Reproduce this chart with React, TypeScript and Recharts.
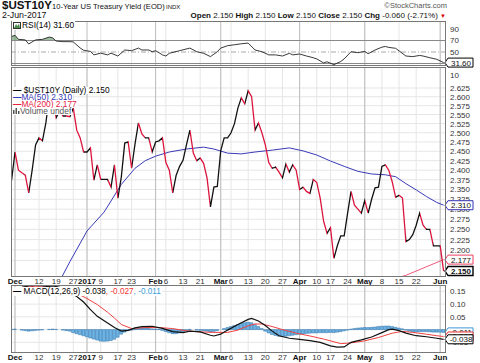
import React from "react";
import {
  Area,
  Bar,
  CartesianGrid,
  ComposedChart,
  Line,
  XAxis,
  YAxis,
} from "recharts";

const FONT = "'Liberation Sans', Arial, sans-serif";

// trading days, 0 = 1 Dec 2016 (first entry is 30 Nov = -1)
const firstDay = -1;

const price = [
  2.374, 2.448, 2.4, 2.393, 2.387, 2.341, 2.4, 2.467, 2.486, 2.478, 2.527,
  2.6, 2.59, 2.541, 2.56, 2.546, 2.546, 2.544, 2.568, 2.507, 2.486,
  2.448, 2.448, 2.459, 2.374, 2.414, 2.376, 2.376, 2.376, 2.356, 2.414,
  2.328, 2.382, 2.472, 2.475, 2.405, 2.47, 2.527, 2.497, 2.486, 2.486,
  2.448, 2.475, 2.478, 2.486, 2.42, 2.4, 2.341, 2.387, 2.41, 2.426,
  2.467, 2.507, 2.445, 2.425, 2.432, 2.418, 2.38, 2.306, 2.356, 2.358,
  2.452, 2.486, 2.486, 2.5, 2.525, 2.568, 2.597, 2.58, 2.617, 2.6,
  2.507, 2.527, 2.5, 2.467, 2.42, 2.405, 2.408, 2.395, 2.38, 2.416,
  2.395, 2.414, 2.4, 2.35, 2.356, 2.345, 2.34, 2.376, 2.368, 2.328,
  2.27, 2.24, 2.254, 2.18, 2.21, 2.234, 2.234, 2.29, 2.345, 2.31,
  2.3, 2.29, 2.322, 2.29, 2.325, 2.354, 2.356, 2.41, 2.414, 2.4,
  2.37, 2.33, 2.335, 2.328, 2.22, 2.225, 2.237, 2.26, 2.29, 2.26,
  2.25, 2.25, 2.21, 2.21, 2.21, 2.15,
];

const ma50Days = [12, 16, 21, 26, 31, 35, 38, 41, 45, 50, 55, 58, 62, 66, 70, 75, 80, 84, 88, 92, 96, 100, 104, 108, 111, 114, 117, 120, 123, 125];
const ma50Vals = [2.111, 2.172, 2.246, 2.293, 2.363, 2.405, 2.425, 2.437, 2.448, 2.456, 2.461, 2.456, 2.445, 2.443, 2.448, 2.453, 2.459, 2.451, 2.44, 2.424, 2.41, 2.397, 2.39, 2.388, 2.383, 2.365, 2.349, 2.332, 2.317, 2.31];

const ma200Days = [100, 114, 125];
const ma200Vals = [2.108, 2.14, 2.177];

const rsiDays = [-1, 0, 1, 3, 4, 6, 8, 10, 11, 12, 14, 16, 17, 19, 20, 22, 23, 25, 27, 28, 30, 32, 34, 36, 37, 39, 40, 41, 43, 44, 45, 48, 51, 53, 55, 57, 59, 60, 62, 64, 66, 68, 70, 72, 74, 76, 78, 80, 81, 83, 85, 87, 88, 90, 91, 93, 95, 96, 98, 100, 102, 103, 105, 107, 108, 109, 111, 112, 114, 116, 118, 119, 121, 123, 125];
const rsiVals = [77, 79, 72, 71, 64, 71, 72, 76, 74.5, 69, 68, 68, 67.5, 57, 53, 51, 45, 48, 45, 48, 43, 53.5, 52.3, 56.8, 53.5, 53.5, 50.5, 52.3, 45, 43, 47.7, 52.3, 56.8, 50.5, 47.7, 42, 50.5, 56.8, 61, 62.6, 64.3, 65.5, 53.5, 50.5, 45, 45, 43, 47.7, 45, 46.5, 43, 40, 38, 31, 33, 28, 33.5, 38, 50.5, 48.8, 51, 47, 53.5, 58.4, 59.6, 58, 56.4, 52, 43, 42, 44, 43, 40, 37.3, 31.6];

const macdDays = [2, 4, 6, 8, 11, 13, 15, 18, 20, 22, 24, 27, 29, 31, 33, 35, 37, 40, 43, 46, 49, 51, 54, 57, 58, 60, 62, 65, 68, 69, 71, 73, 75, 77, 80, 83, 86, 89, 92, 94, 96, 98, 101, 104, 107, 109, 110, 112, 114, 117, 120, 123, 125];
const macdVals = [0.172, 0.167, 0.165, 0.167, 0.171, 0.166, 0.155, 0.13, 0.108, 0.078, 0.052, 0.026, 0.008, -0.006, -0.003, 0.007, 0.012, 0.013, 0.005, -0.008, -0.012, -0.006, -0.009, -0.022, -0.025, -0.018, -0.002, 0.02, 0.04, 0.044, 0.034, 0.016, -0.006, -0.024, -0.034, -0.038, -0.043, -0.05, -0.064, -0.069, -0.068, -0.05, -0.04, -0.029, -0.012, 0.0, 0.002, -0.004, -0.014, -0.024, -0.028, -0.034, -0.038];

const signalDays = [2, 6, 10, 13, 15, 18, 21, 24, 27, 29, 31, 34, 38, 42, 46, 50, 54, 58, 62, 65, 68, 70, 72, 75, 78, 82, 86, 90, 95, 98, 102, 106, 110, 113, 116, 120, 123, 125];
const signalVals = [0.172, 0.168, 0.167, 0.162, 0.155, 0.142, 0.122, 0.098, 0.068, 0.045, 0.02, 0.004, 0.008, 0.008, 0.004, -0.005, -0.009, -0.011, -0.011, -0.002, 0.015, 0.022, 0.022, 0.012, 0.0, -0.014, -0.025, -0.037, -0.055, -0.052, -0.044, -0.031, -0.014, -0.007, -0.011, -0.018, -0.024, -0.027];

const hist = [
  0.001, 0.002, 0.0, -0.002, -0.004, -0.006, -0.005, -0.003, -0.002, -0.001, 0.0,
  0.001, 0.002, 0.001, 0.0, -0.002, -0.004, -0.006, -0.012, -0.016, -0.02,
  -0.024, -0.028, -0.033, -0.037, -0.041, -0.045, -0.046, -0.045, -0.043, -0.038,
  -0.03, -0.018, -0.01, -0.004, -0.002, 0.002, 0.005, 0.006, 0.006, 0.005,
  0.003, 0.002, 0.002, -0.003, -0.008, -0.012, -0.016, -0.016, -0.013, -0.009,
  -0.004, 0.001, 0.0, -0.002, -0.003, -0.004, -0.006, -0.009, -0.007, -0.004,
  0.0, 0.004, 0.008, 0.012, 0.016, 0.02, 0.024, 0.027, 0.029, 0.027,
  0.02, 0.012, 0.004, -0.006, -0.013, -0.019, -0.023, -0.026, -0.027, -0.026,
  -0.024, -0.022, -0.02, -0.018, -0.017, -0.015, -0.014, -0.013, -0.013, -0.012,
  -0.012, -0.012, -0.011, -0.012, -0.01, -0.008, -0.005, -0.002, 0.002, 0.004,
  0.006, 0.007, 0.008, 0.008, 0.009, 0.01, 0.012, 0.013, 0.014, 0.014,
  0.012, 0.009, 0.006, 0.003, -0.002, -0.006, -0.008, -0.009, -0.008, -0.008,
  -0.008, -0.009, -0.01, -0.01, -0.01, -0.011,
];

const tickDays = [0, 7, 12, 17, 21, 25, 30, 34, 41, 44, 49, 54, 60, 63, 68, 73, 78, 83, 88, 92, 97, 102, 107, 112, 117, 124];
const tickLabels = ["Dec", "12", "19", "27", "2017", "9", "17", "23", "Feb", "6", "13", "21", "Mar", "6", "13", "20", "27", "Apr", "10", "17", "24", "May", "8", "15", "22", "Jun"];
const monthDays = [0, 21, 41, 60, 83, 102, 124];

const priceTicks = [2.625, 2.6, 2.575, 2.55, 2.525, 2.5, 2.475, 2.45, 2.425, 2.4, 2.375, 2.35, 2.325, 2.3, 2.275, 2.25, 2.225, 2.2, 2.175];
const priceTags = [2.31, 2.177, 2.15];
const priceTagColors = ["#3535b5", "#ee3f62", "#000000"];

const rsiTicks = [90, 70, 50];
const rsiTags = [31.6];

const macdTicks = [0.15, 0.1, 0.05, 0, -0.05];
const macdTags = [-0.011, -0.027, -0.038];
const macdTagColors = ["#3d9ad6", "#ee3333", "#000000"];

const xDomain = [-1.17, 125.4];

const UP = "#111111";
const DOWN = "#dc143c";

const pick = (days: number[], vals: number[], d: number) => {
  const k = days.indexOf(d);
  return k >= 0 ? vals[k] : null;
};

const rows = price.map((p, i) => {
  const d = i + firstDay;
  return {
    d,
    price: p,
    ma50: pick(ma50Days, ma50Vals, d),
    ma200: pick(ma200Days, ma200Vals, d),
    rsi: pick(rsiDays, rsiVals, d),
    macd: pick(macdDays, macdVals, d),
    signal: pick(signalDays, signalVals, d),
    hist: hist[i],
  };
});

function DateTick(props: any) {
  const { x, y, payload } = props;
  const k = tickDays.indexOf(payload.value);
  const bold = monthDays.includes(payload.value);
  return (
    <text x={x} y={y} dy={8} textAnchor="middle" fontSize={8} fontFamily={FONT}
      fontWeight={bold ? "bold" : "normal"} fill={bold ? "#111" : "#333"}>
      {tickLabels[k]}
    </text>
  );
}

function ValueTag({ x, y, text, color, bold }: any) {
  return (
    <g>
      <path
        d={`M${x} ${y} L${x + 3} ${y - 4.5} L${x + 28} ${y - 4.5} L${x + 28} ${y + 4.5} L${x + 3} ${y + 4.5} Z`}
        fill="#fff" stroke={color} strokeWidth={bold ? 1.4 : 1}
      />
      <text x={x + 16} y={y} dy={3} textAnchor="middle" fontSize={8} fontFamily={FONT}
        fontWeight={bold ? "bold" : "normal"} fill="#111">
        {text}
      </text>
    </g>
  );
}

function makeTick(tags: number[], colors: string[], digits: number, tagDigits: number, boldLast: boolean) {
  return (props: any) => {
    const { x, y, payload } = props;
    const k = tags.indexOf(payload.value);
    if (k >= 0) {
      return (
        <ValueTag x={x} y={y} text={payload.value.toFixed(tagDigits)} color={colors[k]}
          bold={boldLast && k === tags.length - 1} />
      );
    }
    return (
      <text x={x + 5} y={y} dy={3} fontSize={8} fontFamily={FONT} fill="#333">
        {payload.value.toFixed(digits)}
      </text>
    );
  };
}

const PriceTick = makeTick(priceTags, priceTagColors, 3, 3, true);
const RsiTick = makeTick(rsiTags, ["#000000"], 0, 2, false);
const MacdTick = makeTick(macdTags, macdTagColors, 2, 3, false);

function Txt({ x, y, size, bold, color, right, children }: any) {
  const style: any = {
    position: "absolute",
    top: y,
    fontFamily: FONT,
    fontSize: size,
    fontWeight: bold ? "bold" : "normal",
    color: color || "#111",
    whiteSpace: "nowrap",
    lineHeight: 1,
  };
  if (right !== undefined) style.right = 480 - right;
  else style.left = x;
  return <div style={style}>{children}</div>;
}

function Box({ x, y, w, h }: any) {
  return (
    <div style={{ position: "absolute", left: x, top: y, width: w, height: h, border: "1px solid #777", boxSizing: "border-box", pointerEvents: "none" }} />
  );
}

export default function App() {
  const n = price.length - 1;
  const stops: React.ReactNode[] = [];
  for (let k = 1; k <= n; k++) {
    const c = price[k] >= price[k - 1] ? UP : DOWN;
    stops.push(<stop key={`a${k}`} offset={(k - 1) / n} stopColor={c} />);
    stops.push(<stop key={`b${k}`} offset={k / n} stopColor={c} />);
  }
  const rMax = Math.max(...rsiVals);
  const rMin = Math.min(...rsiVals);
  const hot = (rMax - 70) / (rMax - rMin);

  const legendRow = { background: "#fff", display: "inline-block", padding: "0 1px" };

  return (
    <div style={{ position: "absolute", left: 0, top: 0, width: 480, height: 363, background: "#fff", overflow: "hidden" }}>
      {/* header */}
      <Txt x={2} y={0} size={11.5} bold>$UST10Y</Txt>
      <Txt x={52} y={3} size={7.6}>10-Year US Treasury Yield (EOD)</Txt>
      <Txt x={166} y={4} size={6}>INDX</Txt>
      <Txt right={447} y={2} size={7.5} color="#555">©StockCharts.com</Txt>
      <Txt x={2} y={11} size={8.8}>2-Jun-2017</Txt>
      <Txt right={446} y={11.5} size={8}>
        <b>Open</b> 2.150 <b>High</b> 2.150 <b>Low</b> 2.150 <b>Close</b> 2.150 <b>Chg</b> -0.060 (-2.71%) <span style={{ color: "#d00", fontSize: 6 }}>▼</span>
      </Txt>

      {/* RSI panel */}
      <div style={{ position: "absolute", left: 0, top: 0 }}>
        <ComposedChart width={480} height={80} data={rows} margin={{ top: 21, right: 0, bottom: 15, left: 11 }}>
          <defs>
            <linearGradient id="rsiHot" x1="0" y1="0" x2="0" y2="1">
              <stop offset={0} stopColor="#5e905e" />
              <stop offset={hot} stopColor="#5e905e" />
              <stop offset={hot} stopColor="#5e905e" stopOpacity={0} />
              <stop offset={1} stopColor="#5e905e" stopOpacity={0} />
            </linearGradient>
          </defs>
          <CartesianGrid stroke="#e6e6e6" verticalValues={tickDays} horizontal={false} />
          <CartesianGrid stroke="#bdbdbd" verticalValues={monthDays} horizontal={false} />
          <CartesianGrid stroke="#888" horizontalValues={[70, 30]} vertical={false} />
          <CartesianGrid stroke="#aaa" strokeDasharray="5 2 1 2" horizontalValues={[50]} vertical={false} />
          <XAxis dataKey="d" type="number" domain={xDomain} allowDataOverflow hide />
          <YAxis orientation="right" domain={[27.4, 103.9]} allowDataOverflow width={35}
            ticks={[...rsiTicks, ...rsiTags]} interval={0} tick={RsiTick} tickLine={false} axisLine={false}
            tickSize={0} tickMargin={0} />
          <Area dataKey="rsi" baseValue={70} fill="url(#rsiHot)" stroke="none" connectNulls isAnimationActive={false} />
          <Line dataKey="rsi" stroke="#222" strokeWidth={0.9} dot={false} connectNulls isAnimationActive={false} />
        </ComposedChart>
      </div>
      <Box x={11} y={21} w={435} h={45} />
      <Txt x={450} y={72} size={8} color="#333">10</Txt>
      <div style={{ position: "absolute", left: 12, top: 21, fontFamily: FONT, fontSize: 8.4, lineHeight: "9px", whiteSpace: "nowrap" }}>
        <span style={legendRow}>
          <svg width="8" height="7" style={{ verticalAlign: "-1px", marginRight: 1 }}>
            <rect x="0.5" y="0.5" width="7" height="6" fill="#fff" stroke="#333" />
            <path d="M1 6 L3 2 L4.5 4 L6 1.5 L7 6 Z" fill="#4f8a4f" />
          </svg>
          RSI(14) 31.60
        </span>
      </div>

      {/* price panel */}
      <div style={{ position: "absolute", left: 0, top: 0 }}>
        <ComposedChart width={480} height={290} data={rows} margin={{ top: 67, right: 0, bottom: 0, left: 11 }}>
          <defs>
            <linearGradient id="priceStroke" x1="0" y1="0" x2="1" y2="0">
              {stops}
            </linearGradient>
          </defs>
          <CartesianGrid stroke="#e6e6e6" verticalValues={tickDays} horizontalValues={priceTicks} />
          <CartesianGrid stroke="#bdbdbd" verticalValues={monthDays} horizontal={false} />
          <XAxis dataKey="d" type="number" domain={xDomain} allowDataOverflow ticks={tickDays} interval={0}
            tick={DateTick} tickLine={false} axisLine={false} height={14} tickSize={0} tickMargin={0} />
          <YAxis orientation="right" scale="log" domain={[2.1384, 2.6858]} allowDataOverflow width={35}
            ticks={[...priceTicks, ...priceTags]} interval={0} tick={PriceTick} tickLine={false} axisLine={false}
            tickSize={0} tickMargin={0} />
          <Line dataKey="ma200" stroke="#f0587a" strokeWidth={1} dot={false} connectNulls isAnimationActive={false} />
          <Line dataKey="ma50" stroke="#3a3ab8" strokeWidth={1} dot={false} connectNulls isAnimationActive={false} />
          <Line dataKey="price" stroke="url(#priceStroke)" strokeWidth={1.3} dot={false} isAnimationActive={false} />
        </ComposedChart>
      </div>
      <Box x={11} y={67} w={435} h={210} />
      <div style={{ position: "absolute", left: 12, top: 86.5, fontFamily: FONT, fontSize: 8.4, lineHeight: "7px", whiteSpace: "nowrap" }}>
        <div><span style={legendRow}><span style={{ fontWeight: "bold" }}>—</span> $UST10Y (Daily) 2.150</span></div>
        <div><span style={{ ...legendRow, color: "#3535b5" }}><span style={{ fontWeight: "bold" }}>—</span>MA(50) 2.310</span></div>
        <div><span style={{ ...legendRow, color: "#e8213f" }}><span style={{ fontWeight: "bold" }}>—</span>MA(200) 2.177</span></div>
        <div><span style={{ ...legendRow, color: "#555" }}>
          <svg width="7" height="6" style={{ verticalAlign: "0px" }}>
            <rect x="0" y="2" width="1.5" height="4" fill="#555" />
            <rect x="2.5" y="0" width="1.5" height="6" fill="#555" />
            <rect x="5" y="3" width="1.5" height="3" fill="#555" />
          </svg>Volume undef</span></div>
      </div>

      {/* MACD panel */}
      <div style={{ position: "absolute", left: 0, top: 270 }}>
        <ComposedChart width={480} height={93} data={rows} margin={{ top: 15, right: 0, bottom: 0, left: 11 }}>
          <CartesianGrid stroke="#e6e6e6" verticalValues={tickDays} horizontalValues={macdTicks} />
          <CartesianGrid stroke="#bdbdbd" verticalValues={monthDays} horizontal={false} />
          <XAxis dataKey="d" type="number" domain={xDomain} allowDataOverflow ticks={tickDays} interval={0}
            tick={DateTick} tickLine={false} axisLine={false} height={11} tickSize={0} tickMargin={0} />
          <YAxis orientation="right" domain={[-0.0878, 0.1748]} allowDataOverflow width={35}
            ticks={[...macdTicks, ...macdTags]} interval={0} tick={MacdTick} tickLine={false} axisLine={false}
            tickSize={0} tickMargin={0} />
          <Bar dataKey="hist" barSize={3} fill="#6db4e4" stroke="#2b6fa8" strokeWidth={0.5} isAnimationActive={false} />
          <Line dataKey="signal" stroke="#f04040" strokeWidth={1} dot={false} connectNulls isAnimationActive={false} />
          <Line dataKey="macd" stroke="#111" strokeWidth={1.2} dot={false} connectNulls isAnimationActive={false} />
        </ComposedChart>
      </div>
      <Box x={11} y={285} w={435} h={68} />
      <div style={{ position: "absolute", left: 12, top: 286.5, fontFamily: FONT, fontSize: 8.2, lineHeight: "9px", whiteSpace: "nowrap" }}>
        <span style={legendRow}>
          <span style={{ fontWeight: "bold" }}>—</span> MACD(12,26,9) -0.038
          <span style={{ color: "#ee3333" }}>, -0.027</span>
          <span style={{ color: "#3d9ad6" }}>, -0.011</span>
        </span>
      </div>
    </div>
  );
}
